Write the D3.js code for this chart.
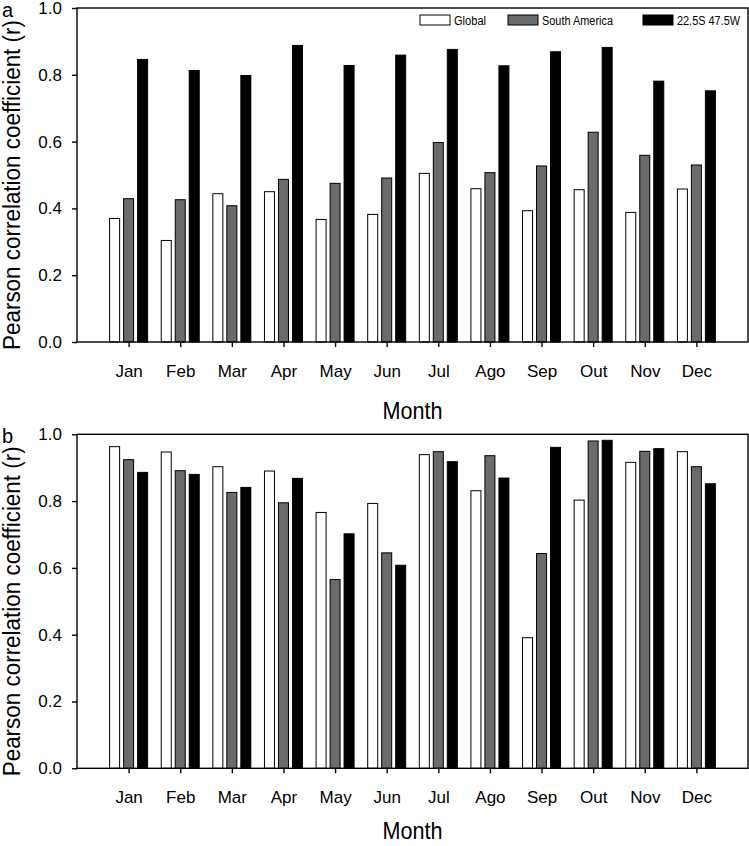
<!DOCTYPE html>
<html>
<head>
<meta charset="utf-8">
<script src="https://cdn.jsdelivr.net/npm/d3@7"></script>
<style>
  body { margin: 0; background: #fff; }
  svg { display: block; font-family: "Liberation Sans", Arial, sans-serif; }
  .axis path, .axis line { stroke: #000; stroke-width: 1.4px; }
  .axis text { font-size: 17px; fill: #000; }
</style>
</head>
<body>
<div id="chart"></div>
<script>
// Data
const months = ["Jan", "Feb", "Mar", "Apr", "May", "Jun", "Jul", "Ago", "Sep", "Out", "Nov", "Dec"];
const seriesNames = ["Global", "South America", "22.5S 47.5W"];
const yTicks = [0.0, 0.2, 0.4, 0.6, 0.8, 1.0];

// Panel a
const globalA = [0.370, 0.304, 0.444, 0.450, 0.367, 0.382, 0.505, 0.459, 0.393, 0.456, 0.388, 0.458];
const southAmericaA = [0.429, 0.426, 0.408, 0.487, 0.475, 0.491, 0.597, 0.507, 0.527, 0.628, 0.559, 0.530];
const pointA = [0.846, 0.813, 0.798, 0.888, 0.828, 0.859, 0.876, 0.827, 0.869, 0.882, 0.781, 0.752];

// Panel b
const globalB = [0.963, 0.947, 0.903, 0.890, 0.766, 0.793, 0.939, 0.831, 0.391, 0.803, 0.916, 0.948];
const southAmericaB = [0.924, 0.891, 0.826, 0.795, 0.565, 0.645, 0.948, 0.936, 0.643, 0.980, 0.949, 0.903];
const pointB = [0.886, 0.880, 0.841, 0.868, 0.702, 0.608, 0.918, 0.869, 0.961, 0.982, 0.957, 0.852];

const fills = ["#ffffff", "#6b6b6b", "#000000"];

/*******************************/
/*    Declare the constants    */
/*******************************/
const width = 749;
const height = 846;
const plotLeft = 77;
const plotRight = 748;
const panelHeight = 334;
const barWidth = 10;
const barStep = 14;

const svg = d3.select("#chart")
  .append("svg")
    .attr("width", width)
    .attr("height", height);

// Shared x scale: months sit one step in from each edge
const xScale = d3.scalePoint()
  .domain(months)
  .range([plotLeft, plotRight])
  .padding(1);

// Squeeze a text to a given width (the original uses a narrow face)
const squeeze = (sel, w) => sel
  .attr("textLength", w)
  .attr("lengthAdjust", "spacingAndGlyphs");

const drawPanel = (top, letter, series, withLegend) => {
  const yScale = d3.scaleLinear()
    .domain([0, 1])
    .range([top + panelHeight, top]);

  const g = svg.append("g");

  // Bars
  series.forEach((values, s) => {
    g.selectAll(null)
      .data(values)
      .join("rect")
        .attr("x", (d, i) => xScale(months[i]) + (s - 1) * barStep - barWidth / 2)
        .attr("y", d => yScale(d))
        .attr("width", barWidth)
        .attr("height", d => yScale(0) - yScale(d))
        .attr("fill", fills[s])
        .attr("stroke", "#000")
        .attr("stroke-width", 1);
  });

  // Frame
  g.append("rect")
    .attr("x", plotLeft)
    .attr("y", top)
    .attr("width", plotRight - plotLeft)
    .attr("height", panelHeight)
    .attr("fill", "none")
    .attr("stroke", "#000")
    .attr("stroke-width", 1.4);

  // Left axis
  g.append("g")
    .attr("class", "axis")
    .attr("transform", `translate(${plotLeft}, 0)`)
    .call(d3.axisLeft(yScale).tickValues(yTicks).tickFormat(d3.format(".1f")).tickSize(5).tickPadding(10).tickSizeOuter(0))
    .call(a => a.select(".domain").remove());

  // Bottom axis
  g.append("g")
    .attr("class", "axis")
    .attr("transform", `translate(0, ${top + panelHeight})`)
    .call(d3.axisBottom(xScale).tickSize(5).tickPadding(17.5).tickSizeOuter(0))
    .call(a => a.select(".domain").remove());

  // Axis titles (kept inside the page at the bottom)
  g.append("text")
    .text("Month")
    .attr("x", (plotLeft + plotRight) / 2)
    .attr("y", Math.min(top + panelHeight + 77, height - 7))
    .attr("text-anchor", "middle")
    .attr("font-size", 24)
    .call(squeeze, 60);

  g.append("text")
    .text("Pearson correlation coefficient (r)")
    .attr("transform", `translate(20, ${top + 177}) rotate(-90)`)
    .attr("text-anchor", "middle")
    .attr("font-size", 23)
    .call(squeeze, 330);

  // Panel letter
  g.append("text")
    .text(letter)
    .attr("x", 2)
    .attr("y", top + 9)
    .attr("font-size", 20);

  // Legend
  if (withLegend) {
    const legendX = [420, 508, 643];
    const labelW = [32, 71, 63];
    const legend = g.selectAll(".legend")
      .data(seriesNames)
      .join("g")
        .attr("class", "legend")
        .attr("transform", (d, i) => `translate(${legendX[i]}, ${top + 7})`);
    legend.append("rect")
      .attr("width", 30)
      .attr("height", 10)
      .attr("fill", (d, i) => fills[i])
      .attr("stroke", "#000")
      .attr("stroke-width", 1);
    legend.append("text")
      .text(d => d)
      .attr("x", 34)
      .attr("y", 10)
      .attr("font-size", 12.5)
      .attr("textLength", (d, i) => labelW[i])
      .attr("lengthAdjust", "spacingAndGlyphs");
  }
};

drawPanel(8, "a", [globalA, southAmericaA, pointA], true);
drawPanel(434.3, "b", [globalB, southAmericaB, pointB], false);
</script>
</body>
</html>
